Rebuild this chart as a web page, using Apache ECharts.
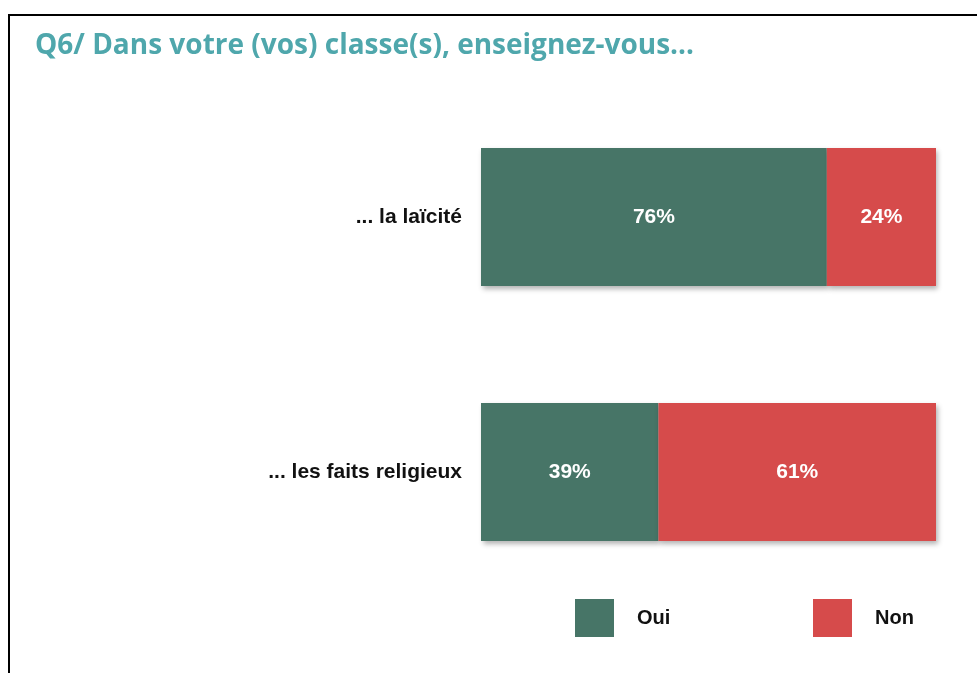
<!DOCTYPE html>
<html>
<head>
<meta charset="utf-8">
<script src="https://cdn.jsdelivr.net/npm/echarts@6/dist/echarts.min.js"></script>
<style>
html,body{margin:0;padding:0;background:#fff;}
#chart{width:977px;height:673px;}
</style>
</head>
<body>
<div id="chart"></div>
<script>
const categories = ['... la laïcité', '... les faits religieux'];
const ouiValues = [76, 39];
const nonValues = [24, 61];
const seriesNames = ['Oui', 'Non'];

const GREEN = '#477567';
const RED = '#d64b4b';

const chart = echarts.init(document.getElementById('chart'));
const labelStyle = {
  show: true, position: 'inside', formatter: '{c}%',
  color: '#fff', fontFamily: 'Liberation Sans, Arial, sans-serif',
  fontWeight: 'bold', fontSize: 21
};
const barShadow = {shadowBlur: 5, shadowOffsetX: 2, shadowOffsetY: 3, shadowColor: 'rgba(0,0,0,0.3)'};
const legendText = {fontFamily: 'Liberation Sans', fontWeight: 'bold', fontSize: 20, color: '#111', padding: [0,0,0,18]};
chart.setOption({
  animation: false,
  backgroundColor: '#fff',
  title: {
    text: 'Q6/ Dans votre (vos) classe(s), enseignez-vous…',
    left: 30, top: 27,
    textStyle: {color: '#4fa7ac', fontFamily: 'Open Sans', fontWeight: 'bold', fontSize: 28}
  },
  graphic: [{
    type: 'polyline', silent: true,
    shape: {points: [[9, 680], [9, 15], [990, 15]]},
    style: {stroke: '#000', lineWidth: 2, fill: null}
  }],
  legend: [
    {data: ['Oui'], left: 570, top: 594, itemWidth: 39, itemHeight: 38, icon: 'rect', textStyle: legendText},
    {data: ['Non'], left: 808, top: 594, itemWidth: 39, itemHeight: 38, icon: 'rect', textStyle: legendText}
  ],
  grid: {left: 481, right: 41, top: 89.5, bottom: 73.5, containLabel: false},
  xAxis: {type: 'value', min: 0, max: 100, show: false},
  yAxis: {
    type: 'category', data: categories, inverse: true,
    axisLine: {show: false}, axisTick: {show: false}, splitLine: {show: false},
    axisLabel: {margin: 19, color: '#111', fontFamily: 'Liberation Sans', fontWeight: 'bold', fontSize: 21}
  },
  series: [
    {name: seriesNames[0], type: 'bar', stack: 'a', data: ouiValues, barWidth: 138,
     itemStyle: Object.assign({color: GREEN}, barShadow), label: labelStyle},
    {name: seriesNames[1], type: 'bar', stack: 'a', data: nonValues, barWidth: 138,
     itemStyle: Object.assign({color: RED}, barShadow), label: labelStyle}
  ]
});
</script>
</body>
</html>
